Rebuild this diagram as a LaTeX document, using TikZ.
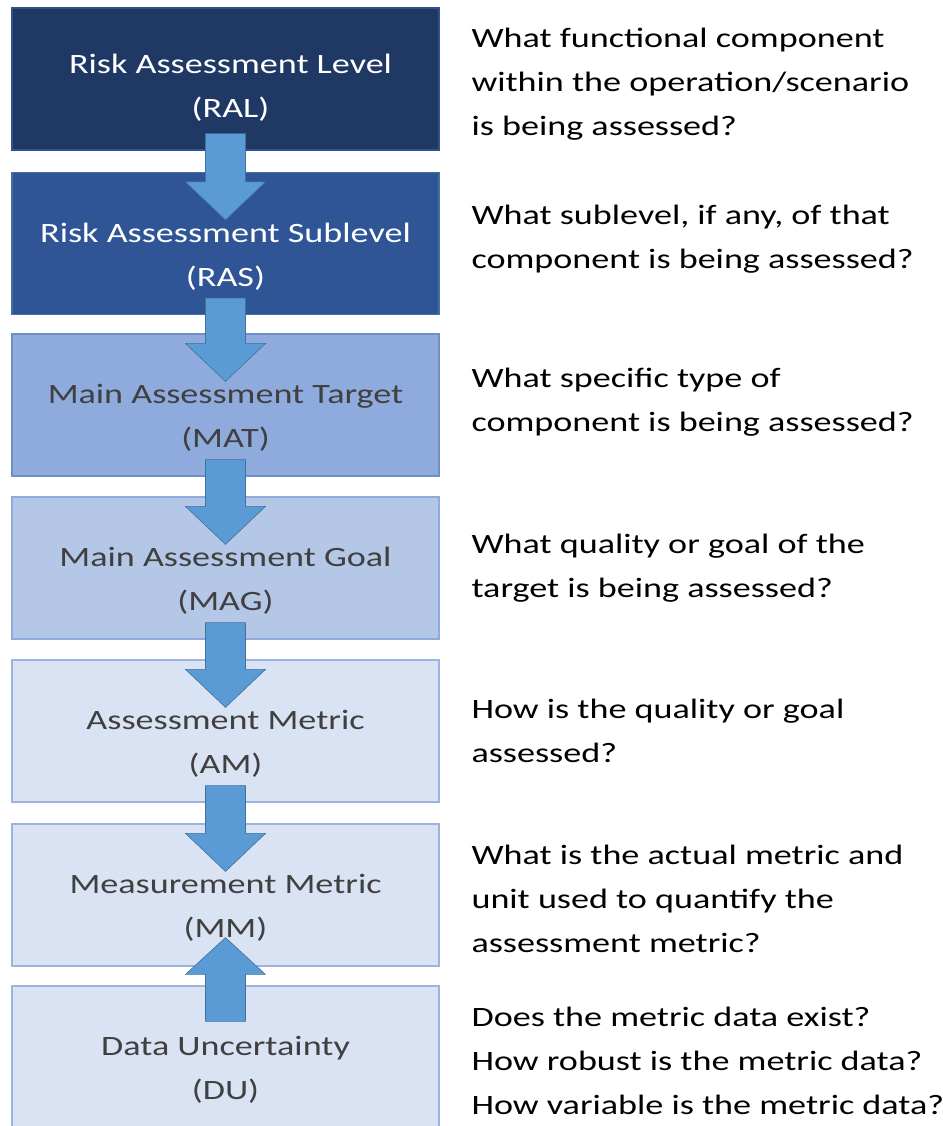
\documentclass[tikz,border=0pt]{standalone}
\usepackage{fontspec}
\setmainfont{Carlito}[FakeStretch=1.29]
\usepackage{xcolor}
\usepackage{tikz}
\usetikzlibrary{calc}

\definecolor{ralfill}{HTML}{203864}
\definecolor{ralline}{HTML}{2F528F}
\definecolor{rasfill}{HTML}{2F5597}
\definecolor{rasline}{HTML}{41719C}
\definecolor{matfill}{HTML}{8FAADC}
\definecolor{matline}{HTML}{6F8FC9}
\definecolor{magfill}{HTML}{B4C7E7}
\definecolor{magline}{HTML}{8FAADC}
\definecolor{lowfill}{HTML}{DAE3F3}
\definecolor{lowline}{HTML}{9DB3DB}
\definecolor{flowfill}{HTML}{5B9BD5}
\definecolor{flowline}{HTML}{41719C}
\definecolor{labelgray}{HTML}{404040}

% block arrow pointing down from the bottom of #1 into #2
\newcommand{\flowdown}[2]{%
  \draw[flow] ([xshift=-20pt,yshift=17pt]#1.south) -- ([xshift=-20pt,yshift=-10pt]#2.north)
    -- ([xshift=-40pt,yshift=-10pt]#2.north) -- ([yshift=-48pt]#2.north)
    -- ([xshift=40pt,yshift=-10pt]#2.north) -- ([xshift=20pt,yshift=-10pt]#2.north)
    -- ([xshift=20pt,yshift=17pt]#1.south) -- cycle;}

\begin{document}
\begin{tikzpicture}[x=1pt, y=-1pt,
    level/.style={rectangle, draw, line width=1.2pt, minimum width=427pt, minimum height=142pt, inner sep=0pt},
    boxtext/.style={align=center, font=\fontsize{28}{44}\selectfont},
    question/.style={anchor=west, align=left, font=\fontsize{28}{44}\selectfont},
    flow/.style={fill=flowfill, draw=flowline, line width=0.6pt}]
    \useasboundingbox (0,0) rectangle (942,1126);
    \clip (0,0) rectangle (942,1126);
    % level boxes
    \node[level, fill=ralfill, draw=ralline] (ral) at (225.5, 79) {};
    \node[level, fill=rasfill, draw=rasline] (ras) at (225.5, 243.5) {};
    \node[level, fill=matfill, draw=matline] (mat) at (225.5, 405) {};
    \node[level, fill=magfill, draw=magline] (mag) at (225.5, 568) {};
    \node[level, fill=lowfill, draw=lowline] (am) at (225.5, 731) {};
    \node[level, fill=lowfill, draw=lowline] (mm) at (225.5, 895) {};
    \node[level, fill=lowfill, draw=lowline] (du) at (225.5, 1057) {};
    % arrows between levels
    \flowdown{ral}{ras}
    \flowdown{ras}{mat}
    \flowdown{mat}{mag}
    \flowdown{mag}{am}
    \flowdown{am}{mm}
    % uncertainty feeds back up into the measurement metric
    \draw[flow] ([xshift=-20pt,yshift=-36pt]du.north) -- ([xshift=-20pt,yshift=11pt]du.north)
      -- ([xshift=-40pt,yshift=11pt]du.north) -- ([yshift=29pt]mm.south)
      -- ([xshift=40pt,yshift=11pt]du.north) -- ([xshift=20pt,yshift=11pt]du.north)
      -- ([xshift=20pt,yshift=-36pt]du.north) -- cycle;
    % level names
    \node[boxtext, text=white] (ralname) at ([xshift=5pt,yshift=-9pt]ral.center) {Risk Assessment Level\\(RAL)};
    \node[boxtext, text=white] (rasname) at ([yshift=-13pt]ras.center) {Risk Assessment Sublevel\\(RAS)};
    \node[boxtext, text=labelgray] (matname) at ([yshift=-13pt]mat.center) {Main Assessment Target\\(MAT)};
    \node[boxtext, text=labelgray] (magname) at ([yshift=-13pt]mag.center) {Main Assessment Goal\\(MAG)};
    \node[boxtext, text=labelgray] (amname) at ([yshift=-13pt]am.center) {Assessment Metric\\(AM)};
    \node[boxtext, text=labelgray] (mmname) at ([yshift=-13pt]mm.center) {Measurement Metric\\(MM)};
    \node[boxtext, text=labelgray] (duname) at ([yshift=-13pt]du.center) {Data Uncertainty\\(DU)};
    % questions asked at each level
    \node[question] (ralq) at (468, 84) {What functional component\\within the operation/scenario\\is being assessed?};
    \node[question] (rasq) at (468, 239.5) {What sublevel, if any, of that\\component is being assessed?};
    \node[question] (matq) at (468, 402) {What specific type of\\component is being assessed?};
    \node[question] (magq) at (468, 568) {What quality or goal of the\\target is being assessed?};
    \node[question] (amq) at (468, 731) {How is the quality or goal\\assessed?};
    \node[question] (mmq) at (468, 899) {What is the actual metric and\\unit used to quantify the\\assessment metric?};
    \node[question] (duq) at (468, 1061) {Does the metric data exist?\\How robust is the metric data?\\How variable is the metric data?};
\end{tikzpicture}
\end{document}
